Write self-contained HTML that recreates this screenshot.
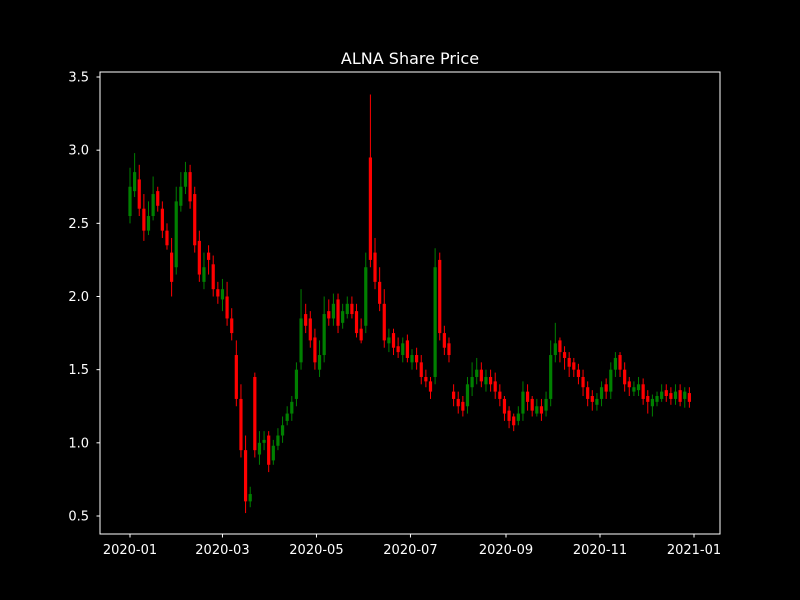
<!DOCTYPE html>
<html><head><meta charset="utf-8"><style>
html,body{margin:0;padding:0;background:#000;overflow:hidden;width:800px;height:600px;}
svg{display:block;}
svg text{font-family:"DejaVu Sans","Liberation Sans",sans-serif;fill:#fff;}
</style></head><body>
<svg id="chart" width="800" height="600" xmlns="http://www.w3.org/2000/svg">
<rect width="800" height="600" fill="#000"/>
<text x="410" y="64" font-size="16" text-anchor="middle">ALNA Share Price</text>
<g id="marks"></g>
<g id="axes"></g>
<rect x="100" y="72" width="620" height="462" fill="none" stroke="#fff" stroke-width="1"/>
</svg>
<script>
const opens=[2.55,2.72,2.8,2.6,2.45,2.55,2.72,2.6,2.45,2.3,2.2,2.62,2.75,2.85,2.7,2.38,2.1,2.3,2.22,2.05,1.98,2.0,1.85,1.6,1.3,0.95,0.6,1.45,0.92,1.0,1.05,0.88,0.98,1.05,1.15,1.2,1.3,1.55,1.88,1.85,1.72,1.5,1.6,1.9,1.85,1.98,1.82,1.88,1.95,1.9,1.78,1.8,2.95,2.3,2.1,1.95,1.68,1.75,1.66,1.6,1.7,1.55,1.6,1.55,1.45,1.42,1.45,2.25,1.75,1.68,1.35,1.3,1.28,1.25,1.38,1.45,1.5,1.4,1.45,1.42,1.35,1.3,1.22,1.18,1.15,1.2,1.35,1.3,1.2,1.25,1.22,1.3,1.6,1.7,1.62,1.58,1.55,1.5,1.45,1.38,1.32,1.26,1.3,1.4,1.35,1.5,1.6,1.5,1.42,1.35,1.36,1.4,1.32,1.25,1.28,1.3,1.36,1.34,1.3,1.36,1.3,1.34];
const closes=[2.75,2.85,2.6,2.45,2.55,2.7,2.62,2.45,2.35,2.1,2.65,2.75,2.85,2.65,2.35,2.15,2.2,2.25,2.05,2.0,2.05,1.85,1.75,1.3,0.95,0.6,0.65,0.95,1.0,1.02,0.85,0.98,1.05,1.12,1.2,1.28,1.5,1.85,1.8,1.7,1.55,1.6,1.88,1.85,1.95,1.8,1.9,1.95,1.88,1.75,1.7,2.2,2.25,2.1,1.95,1.7,1.72,1.65,1.62,1.68,1.58,1.6,1.55,1.45,1.42,1.35,2.2,1.75,1.65,1.6,1.3,1.25,1.22,1.4,1.45,1.5,1.42,1.45,1.4,1.35,1.3,1.2,1.15,1.12,1.2,1.35,1.28,1.22,1.25,1.2,1.3,1.6,1.68,1.62,1.58,1.52,1.5,1.45,1.38,1.3,1.28,1.3,1.38,1.35,1.5,1.58,1.5,1.4,1.38,1.38,1.4,1.3,1.28,1.3,1.32,1.35,1.32,1.3,1.35,1.28,1.35,1.28];
const highs=[2.88,2.98,2.9,2.7,2.65,2.82,2.75,2.65,2.5,2.4,2.75,2.85,2.92,2.9,2.75,2.45,2.3,2.35,2.28,2.1,2.12,2.1,1.92,1.7,1.4,1.05,0.7,1.48,1.08,1.08,1.08,1.02,1.1,1.18,1.25,1.32,1.55,2.05,1.95,1.9,1.78,1.7,2.0,1.98,2.02,2.02,1.95,2.0,2.0,1.95,1.85,2.3,3.38,2.4,2.2,2.05,1.78,1.78,1.72,1.72,1.74,1.64,1.65,1.6,1.5,1.45,2.33,2.3,1.8,1.72,1.4,1.35,1.32,1.45,1.55,1.58,1.55,1.5,1.5,1.48,1.4,1.32,1.25,1.2,1.25,1.42,1.4,1.32,1.3,1.3,1.35,1.7,1.82,1.72,1.66,1.62,1.58,1.54,1.5,1.42,1.36,1.34,1.42,1.44,1.55,1.62,1.62,1.55,1.45,1.42,1.45,1.44,1.36,1.33,1.35,1.4,1.4,1.38,1.4,1.4,1.38,1.38];
const lows=[2.5,2.68,2.55,2.38,2.42,2.52,2.58,2.4,2.32,2.0,2.15,2.58,2.7,2.6,2.3,2.1,2.05,2.15,2.0,1.95,1.9,1.8,1.7,1.25,0.9,0.52,0.56,0.9,0.85,0.95,0.8,0.85,0.95,1.0,1.12,1.15,1.25,1.5,1.75,1.65,1.5,1.45,1.55,1.8,1.8,1.75,1.78,1.85,1.85,1.72,1.68,1.75,2.2,2.05,1.9,1.65,1.62,1.6,1.58,1.55,1.55,1.5,1.5,1.4,1.38,1.3,1.4,1.7,1.6,1.55,1.25,1.2,1.18,1.2,1.32,1.4,1.38,1.35,1.35,1.3,1.25,1.15,1.1,1.08,1.12,1.15,1.22,1.18,1.18,1.15,1.18,1.25,1.55,1.55,1.5,1.45,1.45,1.4,1.32,1.25,1.22,1.22,1.25,1.3,1.3,1.45,1.45,1.35,1.32,1.32,1.32,1.26,1.2,1.18,1.25,1.28,1.28,1.26,1.26,1.25,1.24,1.24];
const startDate="2020-01-01";
const stepDays=3;
const yTicks=[0.5,1.0,1.5,2.0,2.5,3.0,3.5];
const xTickDays=[0,60,121,182,244,305,366];
const xTickLabels=["2020-01","2020-03","2020-05","2020-07","2020-09","2020-11","2021-01"];

const NS="http://www.w3.org/2000/svg";
function xs(day){return 130+day*(564/366);}
function ys(v){return 516-(v-0.5)*(439/3);}
function mk(tag,attrs,parent){const e=document.createElementNS(NS,tag);for(const k in attrs)e.setAttribute(k,attrs[k]);parent.appendChild(e);return e;}
const marks=document.getElementById('marks');
const axes=document.getElementById('axes');
const n=Math.min(opens.length,closes.length,highs.length,lows.length);
for(let i=0;i<n;i++){
  const day=i*stepDays, x=xs(day), o=opens[i], c=closes[i];
  const col=c>=o?'#008000':'#ff0000';
  const w=mk('line',{x1:x,x2:x,y1:ys(highs[i]),y2:ys(lows[i]),stroke:col,'stroke-width':1},marks);
  
  
  const top=ys(Math.max(o,c)), bot=ys(Math.min(o,c));
  const b=mk('rect',{x:x-1.6,y:top,width:3.2,height:Math.max(1,bot-top),fill:col},marks);
  
  
}
yTicks.forEach(v=>{
  const y=ys(v);
  const t=mk('line',{x1:96.5,x2:100,y1:y,y2:y,stroke:'#fff'},axes);
  
  
  const l=mk('text',{x:89,y:y+4.5,'font-size':13,'text-anchor':'end'},axes);
  l.textContent=v.toFixed(1);
  
  
});
xTickDays.forEach((d,i)=>{
  const x=xs(d);
  const t=mk('line',{x1:x,x2:x,y1:534,y2:537.5,stroke:'#fff'},axes);
  
  
  const l=mk('text',{x:x,y:554,'font-size':13,'text-anchor':'middle'},axes);
  l.textContent=xTickLabels[i];
  
  
});
</script>
</body></html>
